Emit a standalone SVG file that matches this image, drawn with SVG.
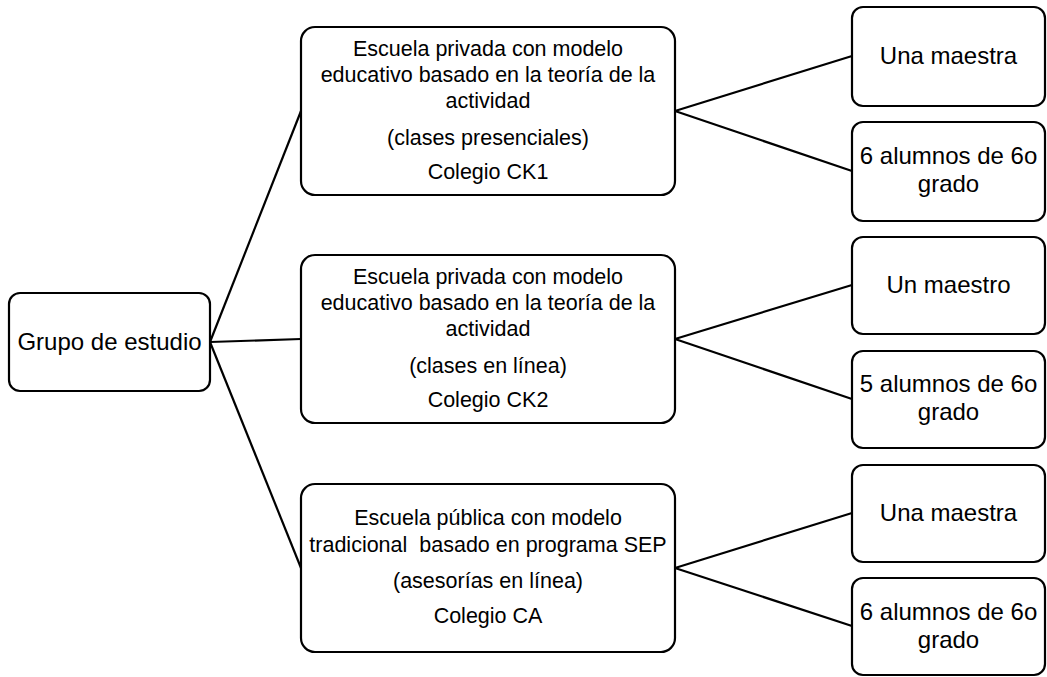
<svg xmlns="http://www.w3.org/2000/svg" width="1047" height="677" viewBox="0 0 1047 677">
<style>
.box{fill:#fff;stroke:#000;stroke-width:2.2}
.con line{stroke:#000;stroke-width:2.2}
text{font-family:"Liberation Sans",Arial,sans-serif;fill:#000;text-anchor:middle;white-space:pre}
.m{font-size:21.5px}
.r{font-size:24px}
.l{font-size:24px}
</style>
<rect width="1047" height="677" fill="#fff"/>
<g id="connectors" class="con">
<line x1="210" y1="342" x2="301" y2="111"/>
<line x1="210" y1="342" x2="301" y2="339"/>
<line x1="210" y1="342" x2="301" y2="568"/>
<line x1="675" y1="111" x2="852" y2="56"/>
<line x1="675" y1="111" x2="852" y2="171"/>
<line x1="675" y1="339" x2="852" y2="285"/>
<line x1="675" y1="339" x2="852" y2="399"/>
<line x1="675" y1="568" x2="852" y2="513"/>
<line x1="675" y1="568" x2="852" y2="626"/>
</g>
<g id="grupo">
<rect class="box" x="9" y="293" width="201" height="98" rx="11"/>
<text class="l" x="109.5" y="350">Grupo de estudio</text>
</g>
<g id="ck1">
<rect class="box" x="301" y="27" width="374" height="168" rx="14"/>
<text class="m" x="488" y="56">Escuela privada con modelo</text>
<text class="m" x="488" y="82">educativo basado en la teoría de la</text>
<text class="m" x="488" y="108">actividad</text>
<text class="m" x="488" y="145">(clases presenciales)</text>
<text class="m" x="488" y="179">Colegio CK1</text>
</g>
<g id="ck2">
<rect class="box" x="301" y="255" width="374" height="168" rx="14"/>
<text class="m" x="488" y="284">Escuela privada con modelo</text>
<text class="m" x="488" y="310">educativo basado en la teoría de la</text>
<text class="m" x="488" y="336">actividad</text>
<text class="m" x="488" y="373">(clases en línea)</text>
<text class="m" x="488" y="407">Colegio CK2</text>
</g>
<g id="ca">
<rect class="box" x="301" y="484" width="374" height="168" rx="14"/>
<text class="m" x="488" y="525">Escuela pública con modelo</text>
<text class="m" x="488" y="552">tradicional  basado en programa SEP</text>
<text class="m" x="488" y="588">(asesorías en línea)</text>
<text class="m" x="488" y="623">Colegio CA</text>
</g>
<g id="ck1-maestra">
<rect class="box" x="852" y="7" width="193" height="99" rx="11"/>
<text class="r" x="948.5" y="64">Una maestra</text>
</g>
<g id="ck1-alumnos">
<rect class="box" x="852" y="122" width="193" height="99" rx="11"/>
<text class="r" x="948.5" y="164">6 alumnos de 6o</text>
<text class="r" x="948.5" y="192">grado</text>
</g>
<g id="ck2-maestro">
<rect class="box" x="852" y="237" width="193" height="97" rx="11"/>
<text class="r" x="948.5" y="293">Un maestro</text>
</g>
<g id="ck2-alumnos">
<rect class="box" x="852" y="351" width="193" height="97" rx="11"/>
<text class="r" x="948.5" y="392">5 alumnos de 6o</text>
<text class="r" x="948.5" y="420">grado</text>
</g>
<g id="ca-maestra">
<rect class="box" x="852" y="465" width="193" height="97" rx="11"/>
<text class="r" x="948.5" y="521">Una maestra</text>
</g>
<g id="ca-alumnos">
<rect class="box" x="852" y="578" width="193" height="97" rx="11"/>
<text class="r" x="948.5" y="620">6 alumnos de 6o</text>
<text class="r" x="948.5" y="648">grado</text>
</g>
</svg>
